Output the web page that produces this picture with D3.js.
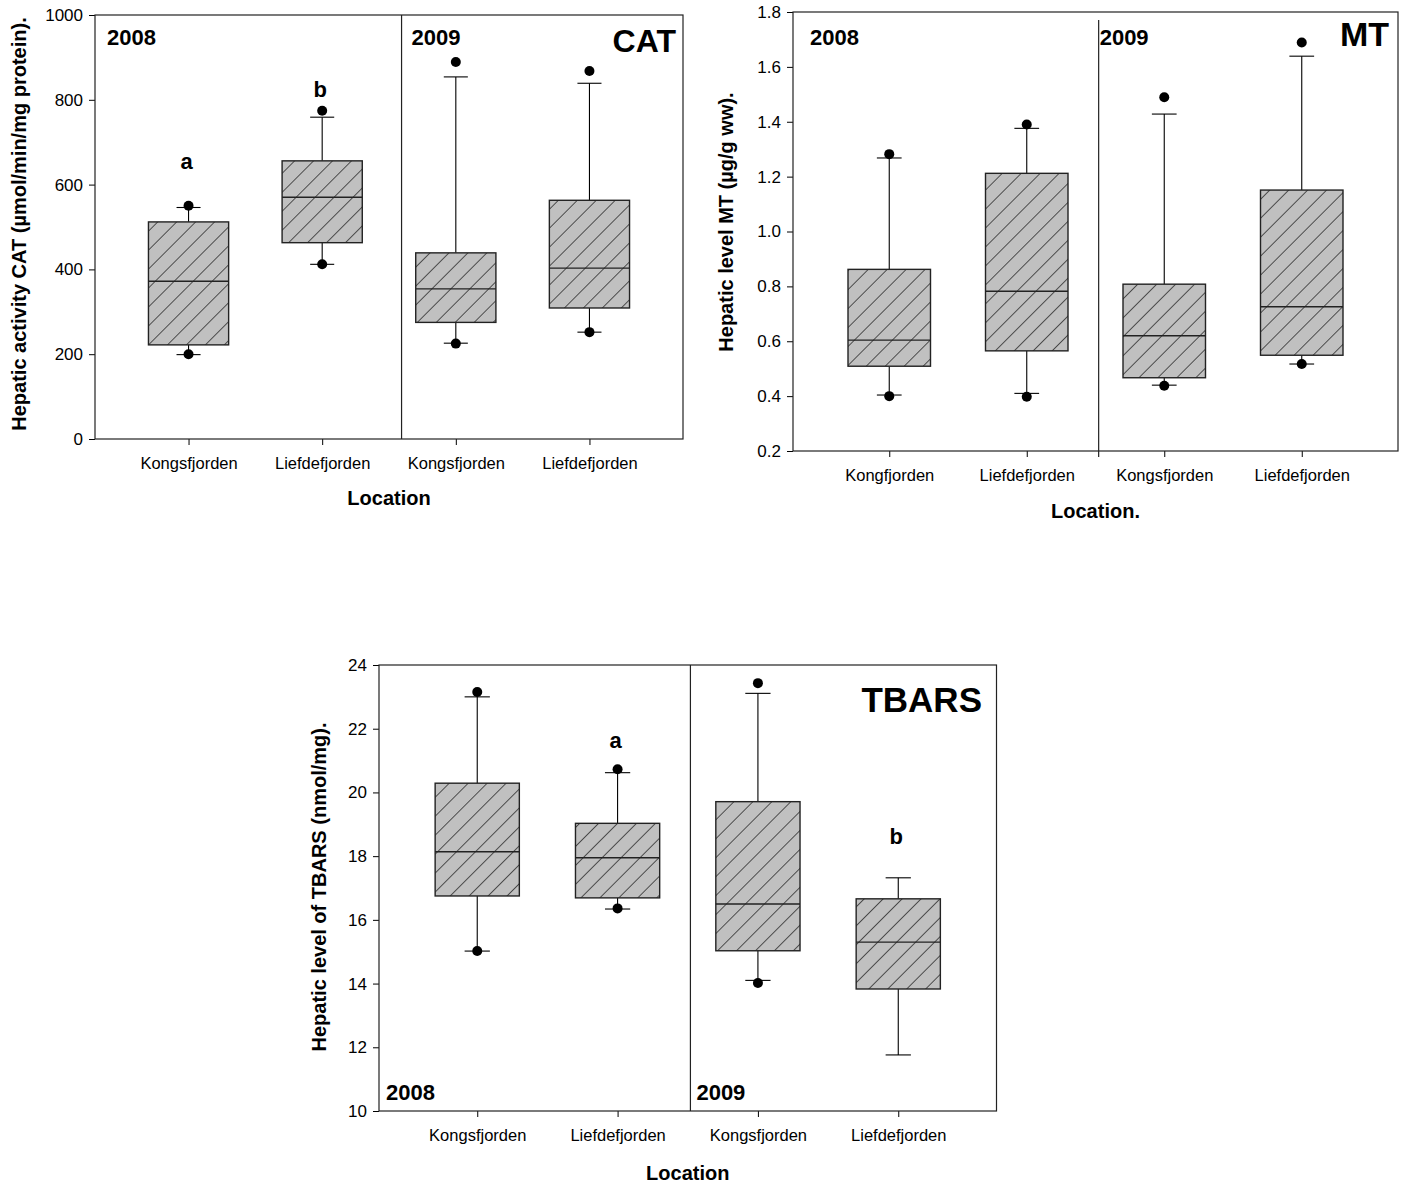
<!DOCTYPE html>
<html>
<head>
<meta charset="utf-8">
<script src="https://cdn.jsdelivr.net/npm/d3@7"></script>
<style>
  html, body { margin: 0; padding: 0; background: #fff; }
  svg { display: block; }
  text { font-family: Arial, "Liberation Sans", sans-serif; fill: #000; }
</style>
</head>
<body>
<svg id="chart" width="1406" height="1185"></svg>
<script>
// ---------------- DATA ----------------
const positions = [1, 2, 3, 4];

// CAT panel
const catCategories = ["Kongsfjorden", "Liefdefjorden", "Kongsfjorden", "Liefdefjorden"];
const catTicks = [0, 200, 400, 600, 800, 1000];
const catQ1 = [222, 463, 275, 309];
const catMedian = [372, 570, 354, 403];
const catQ3 = [512, 656, 439, 563];
const catWhiskerLow = [199, 412, 226, 252];
const catWhiskerHigh = [546, 759, 854, 839];
const catOutlierLow = [200, 412, 225, 252];
const catOutlierHigh = [550, 774, 889, 868];
const catLetters = ["a", "b", "", ""];
const catLetterValues = [637, 807, null, null];

// MT panel
const mtCategories = ["Kongfjorden", "Liefdefjorden", "Kongsfjorden", "Liefdefjorden"];
const mtTicks = [0.2, 0.4, 0.6, 0.8, 1.0, 1.2, 1.4, 1.6, 1.8];
const mtQ1 = [0.509, 0.565, 0.467, 0.549];
const mtMedian = [0.604, 0.782, 0.620, 0.726];
const mtQ3 = [0.862, 1.212, 0.808, 1.151];
const mtWhiskerLow = [0.404, 0.410, 0.440, 0.517];
const mtWhiskerHigh = [1.268, 1.376, 1.428, 1.639];
const mtOutlierLow = [0.400, 0.398, 0.438, 0.517];
const mtOutlierHigh = [1.282, 1.390, 1.489, 1.689];
const mtLetters = ["", "", "", ""];
const mtLetterValues = [null, null, null, null];

// TBARS panel
const tbCategories = ["Kongsfjorden", "Liefdefjorden", "Kongsfjorden", "Liefdefjorden"];
const tbTicks = [10, 12, 14, 16, 18, 20, 22, 24];
const tbQ1 = [16.75, 16.69, 15.03, 13.83];
const tbMedian = [18.14, 17.95, 16.50, 15.30];
const tbQ3 = [20.29, 19.03, 19.71, 16.66];
const tbWhiskerLow = [15.02, 16.34, 14.10, 11.76];
const tbWhiskerHigh = [23.00, 20.62, 23.11, 17.32];
const tbOutlierLow = [15.02, 16.36, 14.02, null];
const tbOutlierHigh = [23.15, 20.73, 23.43, null];
const tbLetters = ["", "a", "", "b"];
const tbLetterValues = [null, 21.39, null, 18.38];

const years = ["2008", "2009"];

// ---------------- DRAWING ----------------
const FONT = 'Arial, "Liberation Sans", sans-serif';
const svg = d3.select("#chart");

const defs = svg.append("defs");
defs.append("pattern")
  .attr("id", "hatch")
  .attr("patternUnits", "userSpaceOnUse")
  .attr("width", 13.4).attr("height", 13.4)
  .attr("patternTransform", "rotate(45)")
  .call(p => {
    p.append("rect").attr("width", 13.4).attr("height", 13.4).attr("fill", "#c0c0c0");
    p.append("line").attr("x1", 0).attr("y1", 0).attr("x2", 0).attr("y2", 13.4)
      .attr("stroke", "#000").attr("stroke-width", 1.2);
  });

function buildBoxes(q1, med, q3, wl, wh, ol, oh) {
  return positions.map((p, i) => ({
    pos: p, q1: q1[i], med: med[i], q3: q3[i],
    wl: wl[i], wh: wh[i], ol: ol[i], oh: oh[i]
  }));
}

function drawPanel(cfg) {
  const g = svg.append("g");
  const x = d3.scaleLinear().domain([0.3, 4.7]).range([cfg.left, cfg.right]);
  const y = d3.scaleLinear().domain(cfg.yDomain).range([cfg.bottom, cfg.top]);
  const boxW = x(0.6) - x(0);
  const capW = x(0.18) - x(0);

  // y axis
  const ya = g.append("g").attr("transform", `translate(${cfg.left},0)`)
    .call(d3.axisLeft(y).tickValues(cfg.ticks).tickSize(6).tickPadding(6)
      .tickFormat(cfg.tickFormat));
  ya.select(".domain").remove();
  ya.selectAll("text").attr("font-size", 17).attr("font-family", FONT).attr("fill", "#000");
  ya.selectAll("line").attr("stroke", "#000");

  // x axis
  const xa = g.append("g").attr("transform", `translate(0,${cfg.bottom})`)
    .call(d3.axisBottom(x).tickValues(positions).tickSize(6).tickPadding(12)
      .tickFormat((d, i) => cfg.categories[i]));
  xa.select(".domain").remove();
  xa.selectAll("text").attr("font-size", 16.5).attr("font-family", FONT).attr("fill", "#000");
  xa.selectAll("line").attr("stroke", "#000");

  // frame
  g.append("rect")
    .attr("x", cfg.left).attr("y", cfg.top)
    .attr("width", cfg.right - cfg.left).attr("height", cfg.bottom - cfg.top)
    .attr("fill", "none").attr("stroke", "#222").attr("stroke-width", 1.2);

  // divider
  g.append("line")
    .attr("x1", x(cfg.divider)).attr("x2", x(cfg.divider))
    .attr("y1", cfg.dividerTop).attr("y2", cfg.dividerBottom)
    .attr("stroke", "#222").attr("stroke-width", 1.2);

  const boxes = g.selectAll("g.box").data(cfg.boxes).join("g").attr("class", "box");

  // whiskers
  boxes.append("line")
    .attr("x1", d => x(d.pos)).attr("x2", d => x(d.pos))
    .attr("y1", d => y(d.q3)).attr("y2", d => y(d.wh))
    .attr("stroke", "#000").attr("stroke-width", 1.1);
  boxes.append("line")
    .attr("x1", d => x(d.pos)).attr("x2", d => x(d.pos))
    .attr("y1", d => y(d.q1)).attr("y2", d => y(d.wl))
    .attr("stroke", "#000").attr("stroke-width", 1.1);
  boxes.append("line")
    .attr("x1", d => x(d.pos) - capW / 2).attr("x2", d => x(d.pos) + capW / 2)
    .attr("y1", d => y(d.wh)).attr("y2", d => y(d.wh))
    .attr("stroke", "#000").attr("stroke-width", 1.1);
  boxes.append("line")
    .attr("x1", d => x(d.pos) - capW / 2).attr("x2", d => x(d.pos) + capW / 2)
    .attr("y1", d => y(d.wl)).attr("y2", d => y(d.wl))
    .attr("stroke", "#000").attr("stroke-width", 1.1);

  // box
  boxes.append("rect")
    .attr("x", d => x(d.pos) - boxW / 2).attr("width", boxW)
    .attr("y", d => y(d.q3)).attr("height", d => y(d.q1) - y(d.q3))
    .attr("fill", "url(#hatch)").attr("stroke", "#222").attr("stroke-width", 1.4);
  boxes.append("line")
    .attr("x1", d => x(d.pos) - boxW / 2).attr("x2", d => x(d.pos) + boxW / 2)
    .attr("y1", d => y(d.med)).attr("y2", d => y(d.med))
    .attr("stroke", "#222").attr("stroke-width", 1.4);

  // outlier dots
  boxes.filter(d => d.oh != null).append("circle")
    .attr("cx", d => x(d.pos)).attr("cy", d => y(d.oh)).attr("r", 5).attr("fill", "#000");
  boxes.filter(d => d.ol != null).append("circle")
    .attr("cx", d => x(d.pos)).attr("cy", d => y(d.ol)).attr("r", 5).attr("fill", "#000");

  // significance letters
  cfg.letters.forEach((l, i) => {
    if (!l) return;
    g.append("text").attr("x", x(positions[i]) - 2).attr("y", y(cfg.letterValues[i]))
      .attr("text-anchor", "middle").attr("font-size", 22).attr("font-weight", "bold")
      .attr("font-family", FONT).text(l);
  });

  // year labels
  g.append("text").attr("x", cfg.left + cfg.y2008dx).attr("y", cfg.yearBaseline)
    .attr("font-size", 22).attr("font-weight", "bold").attr("font-family", FONT).text(years[0]);
  g.append("text").attr("x", x(cfg.divider) + cfg.y2009dx).attr("y", cfg.yearBaseline)
    .attr("font-size", 22).attr("font-weight", "bold").attr("font-family", FONT).text(years[1]);

  // panel tag
  g.append("text").attr("x", cfg.tagX).attr("y", cfg.tagY)
    .attr("text-anchor", "end").attr("font-size", cfg.tagSize).attr("font-weight", "bold")
    .attr("font-family", FONT).text(cfg.tag);

  // axis titles
  g.append("text")
    .attr("transform", `translate(${cfg.yTitleX},${cfg.yTitleY}) rotate(-90)`)
    .attr("text-anchor", "middle").attr("font-size", 20).attr("font-weight", "bold")
    .attr("font-family", FONT).text(cfg.yTitle);
  g.append("text")
    .attr("x", (cfg.left + cfg.right) / 2).attr("y", cfg.xTitleY)
    .attr("text-anchor", "middle").attr("font-size", 20).attr("font-weight", "bold")
    .attr("font-family", FONT).text(cfg.xTitle);
}

drawPanel({
  left: 95, right: 683, top: 15, bottom: 439,
  yDomain: [0, 1000], ticks: catTicks, tickFormat: d3.format("d"),
  categories: catCategories,
  boxes: buildBoxes(catQ1, catMedian, catQ3, catWhiskerLow, catWhiskerHigh, catOutlierLow, catOutlierHigh),
  letters: catLetters, letterValues: catLetterValues,
  divider: 2.594, dividerTop: 15, dividerBottom: 439,
  y2008dx: 12, y2009dx: 10, yearBaseline: 45,
  tag: "CAT", tagX: 676, tagY: 52, tagSize: 32,
  yTitle: "Hepatic activity CAT (µmol/min/mg protein).", yTitleX: 26, yTitleY: 224,
  xTitle: "Location", xTitleY: 505
});

drawPanel({
  left: 793, right: 1398, top: 12, bottom: 451,
  yDomain: [0.2, 1.8], ticks: mtTicks, tickFormat: d3.format(".1f"),
  categories: mtCategories,
  boxes: buildBoxes(mtQ1, mtMedian, mtQ3, mtWhiskerLow, mtWhiskerHigh, mtOutlierLow, mtOutlierHigh),
  letters: mtLetters, letterValues: mtLetterValues,
  divider: 2.523, dividerTop: 20, dividerBottom: 457,
  y2008dx: 17, y2009dx: 1, yearBaseline: 45,
  tag: "MT", tagX: 1389, tagY: 46, tagSize: 34,
  yTitle: "Hepatic level MT (µg/g ww).", yTitleX: 733, yTitleY: 222,
  xTitle: "Location.", xTitleY: 518
});

drawPanel({
  left: 379, right: 996.5, top: 665, bottom: 1111,
  yDomain: [10, 24], ticks: tbTicks, tickFormat: d3.format("d"),
  categories: tbCategories,
  boxes: buildBoxes(tbQ1, tbMedian, tbQ3, tbWhiskerLow, tbWhiskerHigh, tbOutlierLow, tbOutlierHigh),
  letters: tbLetters, letterValues: tbLetterValues,
  divider: 2.519, dividerTop: 665, dividerBottom: 1111,
  y2008dx: 7, y2009dx: 6, yearBaseline: 1100,
  tag: "TBARS", tagX: 982, tagY: 712, tagSize: 35,
  yTitle: "Hepatic level of TBARS (nmol/mg).", yTitleX: 326, yTitleY: 887,
  xTitle: "Location", xTitleY: 1180
});
</script>
</body>
</html>
